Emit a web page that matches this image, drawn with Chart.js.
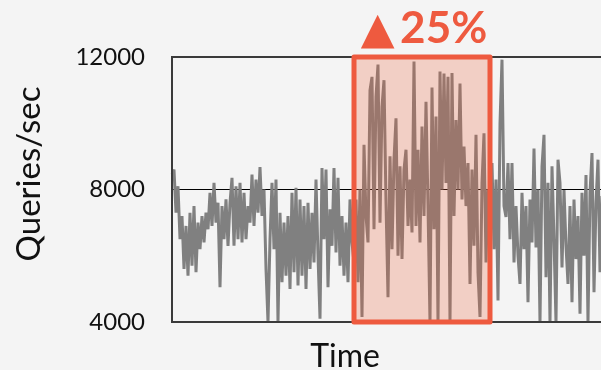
<!DOCTYPE html>
<html>
<head>
<meta charset="utf-8">
<script src="https://cdn.jsdelivr.net/npm/chart.js@4.4.1/dist/chart.umd.min.js"></script>
<style>
    body { margin: 0; background: #f4f4f4; overflow: hidden; }
    #wrap { width: 610px; height: 370px; }
</style>
</head>
<body>
<div id="wrap"><canvas id="qpsChart"></canvas></div>
<script>
// Queries/sec samples, one per time step
const qps = [
    8450, 8600, 7300, 8100, 6500, 7200, 5600, 6900, 5400, 7300,
    5700, 7500, 5500, 7000, 6200, 7200, 6400, 7300, 6800, 7900,
    6900, 8200, 7000, 7600, 5050, 7500, 6500, 7700, 6300, 7600,
    8350, 6300, 8100, 6500, 8200, 6400, 7900, 6500, 7500, 7000,
    8450, 6900, 8300, 7300, 8680, 7200, 8000, 5600, 4000, 6500,
    8200, 6200, 8300, 4000, 7300, 5200, 7000, 5400, 7200, 5000,
    7900, 5500, 8050, 5100, 7700, 5400, 7500, 5000, 7600, 5600,
    7300, 5800, 8300, 6000, 4100, 8650, 6500, 8600, 5050, 7400,
    6300, 8650, 6100, 8350, 5700, 7200, 5400, 7000, 5200, 7700,
    6400, 5800, 7700, 5200, 8000, 4150, 9350, 7200, 6400, 11000,
    11400, 6800, 10800, 11770, 7000, 10500, 11300, 7600, 4750, 9000,
    6200, 8900, 10150, 6000, 8700, 5900, 8600, 9200, 6900, 8300,
    6700, 11860, 6900, 9200, 6400, 9900, 7200, 10650, 7500, 4000,
    11080, 6800, 10200, 4000, 11560, 8000, 11500, 8200, 11400, 4000,
    11520, 7200, 10100, 8000, 11200, 7700, 9300, 7500, 8800, 5150,
    8600, 6300, 9650, 5500, 4150, 8200, 9700, 5800, 8000, 6800,
    8800, 6200, 8300, 4650, 10000, 11920, 7500, 7170, 8800, 6500,
    8800, 5800, 7500, 6000, 5150, 7900, 6200, 7500, 4600, 7700,
    6400, 9240, 6250, 8000, 4000, 8700, 9650, 5350, 8200, 4000,
    8700, 6500, 4000, 8900, 8200, 5650, 7980, 6300, 5150, 7500,
    4600, 7700, 5900, 7200, 4250, 7900, 6000, 8440, 4000, 7900,
    9100, 4900, 7600, 8900, 5500, 7800, 6200, 8000, 6500
];
const timeLabels = qps.map((v, i) => i);
const yTicks = [4000, 8000, 12000];

// highlighted window (sample indices) and its label
const highlightStart = 91;
const highlightEnd = 159;
const highlightLabel = '\u25B2\u200925%';

const red = 'rgb(238, 90, 63)';

const chartDecor = {
    id: 'chartDecor',
    beforeDraw(chart) {
        const ctx = chart.ctx;
        ctx.save();
        ctx.fillStyle = '#f4f4f4';
        ctx.fillRect(0, 0, chart.width, chart.height);
        ctx.restore();
    },
    afterDatasetsDraw(chart) {
        const ctx = chart.ctx;
        const a = chart.chartArea;
        const x = chart.scales.x;
        const y = chart.scales.y;
        ctx.save();
        // plot border
        ctx.strokeStyle = '#3a3a3a';
        ctx.lineWidth = 2;
        ctx.strokeRect(a.left, a.top, a.right - a.left, a.bottom - a.top);

        // highlight box drawn over the line
        const x0 = x.getPixelForValue(highlightStart);
        const x1 = x.getPixelForValue(highlightEnd);
        const y0 = y.getPixelForValue(12000);
        const y1 = y.getPixelForValue(4000);
        ctx.fillStyle = 'rgba(240, 90, 52, 0.24)';
        ctx.fillRect(x0, y0, x1 - x0, y1 - y0);
        ctx.strokeStyle = red;
        ctx.lineWidth = 5;
        ctx.lineJoin = 'round';
        ctx.strokeRect(x0, y0, x1 - x0, y1 - y0);
        ctx.restore();
    },
    afterDraw(chart) {
        const ctx = chart.ctx;
        const x = chart.scales.x;
        ctx.save();
        // label above the highlight
        ctx.fillStyle = red;
        ctx.font = 'bold 44px Lato, "DejaVu Sans"';
        ctx.textAlign = 'center';
        ctx.textBaseline = 'alphabetic';
        const mid = (x.getPixelForValue(highlightStart) + x.getPixelForValue(highlightEnd)) / 2;
        ctx.fillText(highlightLabel, mid + 2, 43);

        // axis titles
        ctx.fillStyle = '#111';
        ctx.font = '32px Lato';
        ctx.fillText('Time', 345, 367);
        ctx.translate(40, 174);
        ctx.rotate(-Math.PI / 2);
        ctx.font = '33px Lato';
        ctx.fillText('Queries/sec', 0, 0);
        ctx.restore();
    }
};

const ctx = document.getElementById('qpsChart').getContext('2d');
new Chart(ctx, {
    type: 'line',
    data: {
        labels: timeLabels,
        datasets: [{
            label: 'Queries/sec',
            data: qps,
            borderColor: '#808080',
            borderWidth: 3,
            borderJoinStyle: 'bevel',
            pointRadius: 0,
            tension: 0,
            fill: false
        }]
    },
    options: {
        responsive: true,
        maintainAspectRatio: false,
        animation: false,
        layout: { padding: { top: 57, bottom: 48, left: 0, right: 2 } },
        plugins: {
            legend: { display: false },
            tooltip: { enabled: false }
        },
        scales: {
            x: {
                display: false,
                offset: false
            },
            y: {
                min: 4000,
                max: 12000,
                afterFit(scale) { scale.width = 172; },
                afterBuildTicks(scale) { scale.ticks = yTicks.map(v => ({ value: v })); },
                ticks: {
                    padding: 27,
                    color: '#111',
                    font: { family: 'Lato', size: 24 },
                    callback: v => String(v)
                },
                grid: { color: '#000', lineWidth: 1, drawTicks: false },
                border: { display: false }
            }
        }
    },
    plugins: [chartDecor]
});
</script>
</body>
</html>
